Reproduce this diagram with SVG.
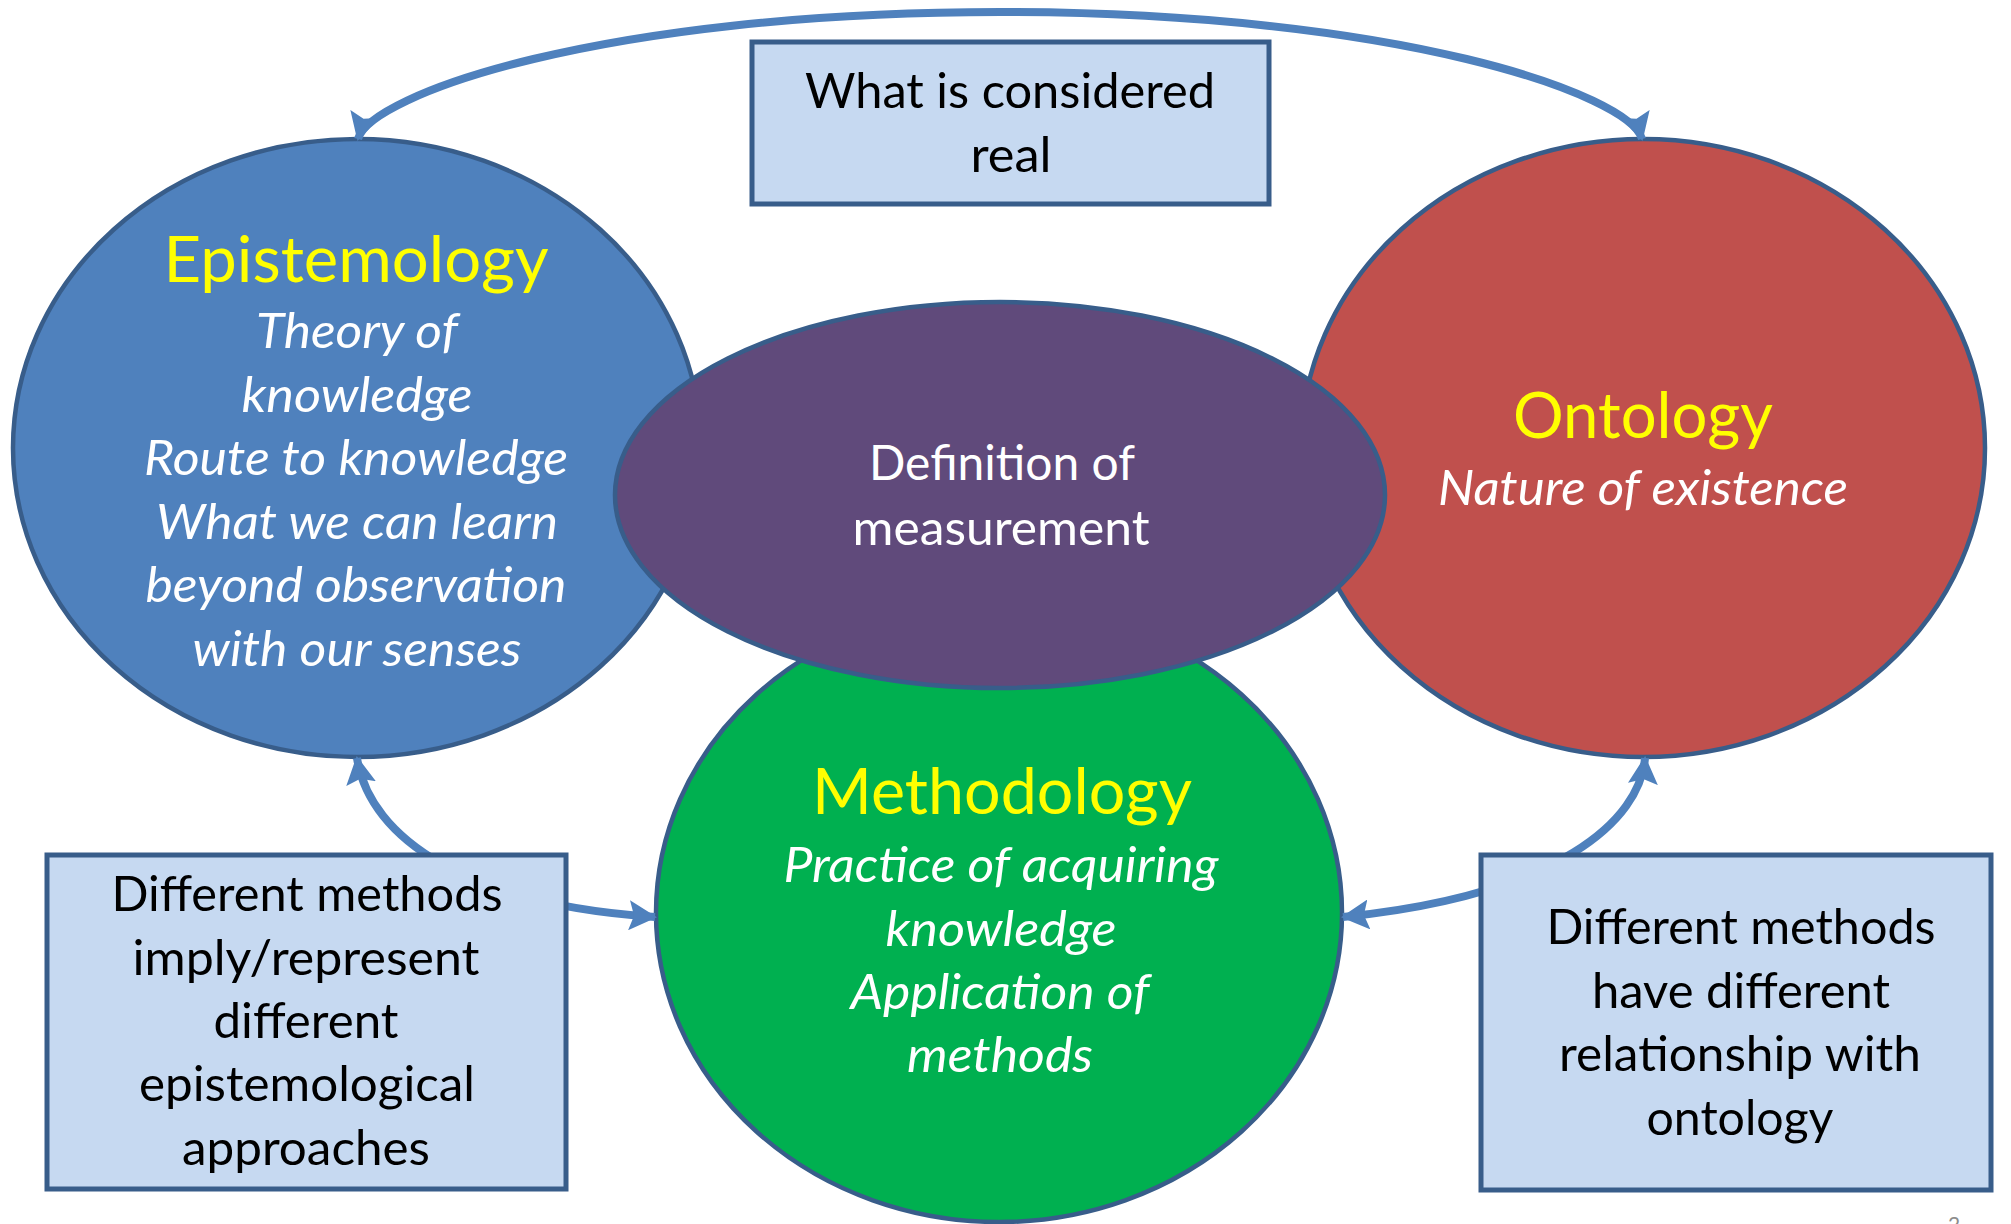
<svg xmlns="http://www.w3.org/2000/svg" width="2011" height="1224" viewBox="0 0 2011 1224">
<style>
.node{stroke:#385D8A;stroke-width:4.5}
.box{fill:#C6D9F1;stroke:#385D8A;stroke-width:5}
.conn{fill:none;stroke:#4F81BD;stroke-width:8}
text{font-family:Lato,"Open Sans","Liberation Sans",sans-serif;text-anchor:middle}
.title{fill:#FFFF00;font-size:64px}
.sub{fill:#FFFFFF;font-size:48px;font-style:italic}
.wt{fill:#FFFFFF;font-size:48px}
.bt{fill:#000000;font-size:48px}
</style>
<defs>
<marker id="ah" viewBox="0 0 28 30" markerWidth="28" markerHeight="30" refX="26" refY="15" orient="auto-start-reverse" markerUnits="userSpaceOnUse">
<path d="M0,0 L28,15 L0,30 L5,15 Z" fill="#4F81BD"/>
</marker>
</defs>
<rect width="2011" height="1224" fill="#FFFFFF"/>

<g id="epistemology">
<ellipse class="node" cx="357" cy="448" rx="344" ry="309" fill="#4F81BD"/>
<text class="title" x="356" y="282" textLength="385" lengthAdjust="spacingAndGlyphs">Epistemology</text>
<text class="sub" x="357" y="348" textLength="202" lengthAdjust="spacingAndGlyphs">Theory of</text>
<text class="sub" x="357" y="412" textLength="231" lengthAdjust="spacingAndGlyphs">knowledge</text>
<text class="sub" x="356" y="475" textLength="424" lengthAdjust="spacingAndGlyphs">Route to knowledge</text>
<text class="sub" x="357" y="539" textLength="402" lengthAdjust="spacingAndGlyphs">What we can learn</text>
<text class="sub" x="356" y="602" textLength="421" lengthAdjust="spacingAndGlyphs">beyond observation</text>
<text class="sub" x="357" y="666" textLength="329" lengthAdjust="spacingAndGlyphs">with our senses</text>
</g>

<g id="ontology">
<ellipse class="node" cx="1643" cy="448" rx="342" ry="309" fill="#C0504D"/>
<text class="title" x="1643" y="438" textLength="260" lengthAdjust="spacingAndGlyphs">Ontology</text>
<text class="sub" x="1643" y="505" textLength="410" lengthAdjust="spacingAndGlyphs">Nature of existence</text>
</g>

<g id="methodology">
<ellipse class="node" cx="999" cy="913" rx="343" ry="309" fill="#00B050"/>
<text class="title" x="1002" y="814" textLength="380" lengthAdjust="spacingAndGlyphs">Methodology</text>
<text class="sub" x="1001" y="882" textLength="435" lengthAdjust="spacingAndGlyphs">Practice of acquiring</text>
<text class="sub" x="1001" y="946" textLength="231" lengthAdjust="spacingAndGlyphs">knowledge</text>
<text class="sub" x="1000" y="1009" textLength="299" lengthAdjust="spacingAndGlyphs">Application of</text>
<text class="sub" x="1000" y="1072" textLength="186" lengthAdjust="spacingAndGlyphs">methods</text>
</g>

<g id="measurement">
<ellipse class="node" cx="1000" cy="495" rx="385" ry="193" fill="#604A7B"/>
<text class="wt" x="1002" y="480" textLength="266" lengthAdjust="spacingAndGlyphs">Definition of</text>
<text class="wt" x="1001" y="545" textLength="297" lengthAdjust="spacingAndGlyphs">measurement</text>
</g>

<g id="connectors">
<path class="conn" d="M358,139 C370,95 600,12 1000,12 C1400,12 1630,95 1642,139" marker-start="url(#ah)" marker-end="url(#ah)"/>
<path class="conn" d="M357,758 C370,840 470,905 655,917" marker-start="url(#ah)" marker-end="url(#ah)"/>
<path class="conn" d="M1645,758 C1640,820 1560,895 1343,917" marker-start="url(#ah)" marker-end="url(#ah)"/>
</g>

<g id="box-real">
<rect class="box" x="752" y="42" width="517" height="162"/>
<text class="bt" x="1010" y="108" textLength="410" lengthAdjust="spacingAndGlyphs">What is considered</text>
<text class="bt" x="1011" y="172" textLength="81" lengthAdjust="spacingAndGlyphs">real</text>
</g>

<g id="box-epistemological">
<rect class="box" x="47" y="855" width="519" height="334"/>
<text class="bt" x="307" y="911" textLength="391" lengthAdjust="spacingAndGlyphs">Different methods</text>
<text class="bt" x="306" y="975" textLength="347" lengthAdjust="spacingAndGlyphs">imply/represent</text>
<text class="bt" x="306" y="1038" textLength="185" lengthAdjust="spacingAndGlyphs">different</text>
<text class="bt" x="307" y="1101" textLength="336" lengthAdjust="spacingAndGlyphs">epistemological</text>
<text class="bt" x="306" y="1165" textLength="248" lengthAdjust="spacingAndGlyphs">approaches</text>
</g>

<g id="box-ontology">
<rect class="box" x="1481" y="855" width="510" height="335"/>
<text class="bt" x="1741" y="944" textLength="389" lengthAdjust="spacingAndGlyphs">Different methods</text>
<text class="bt" x="1741" y="1008" textLength="298" lengthAdjust="spacingAndGlyphs">have different</text>
<text class="bt" x="1740" y="1071" textLength="362" lengthAdjust="spacingAndGlyphs">relationship with</text>
<text class="bt" x="1740" y="1135" textLength="187" lengthAdjust="spacingAndGlyphs">ontology</text>
</g>

<text x="1954" y="1232" style="font-size:21px;fill:#8C8C8C">2</text>
</svg>
